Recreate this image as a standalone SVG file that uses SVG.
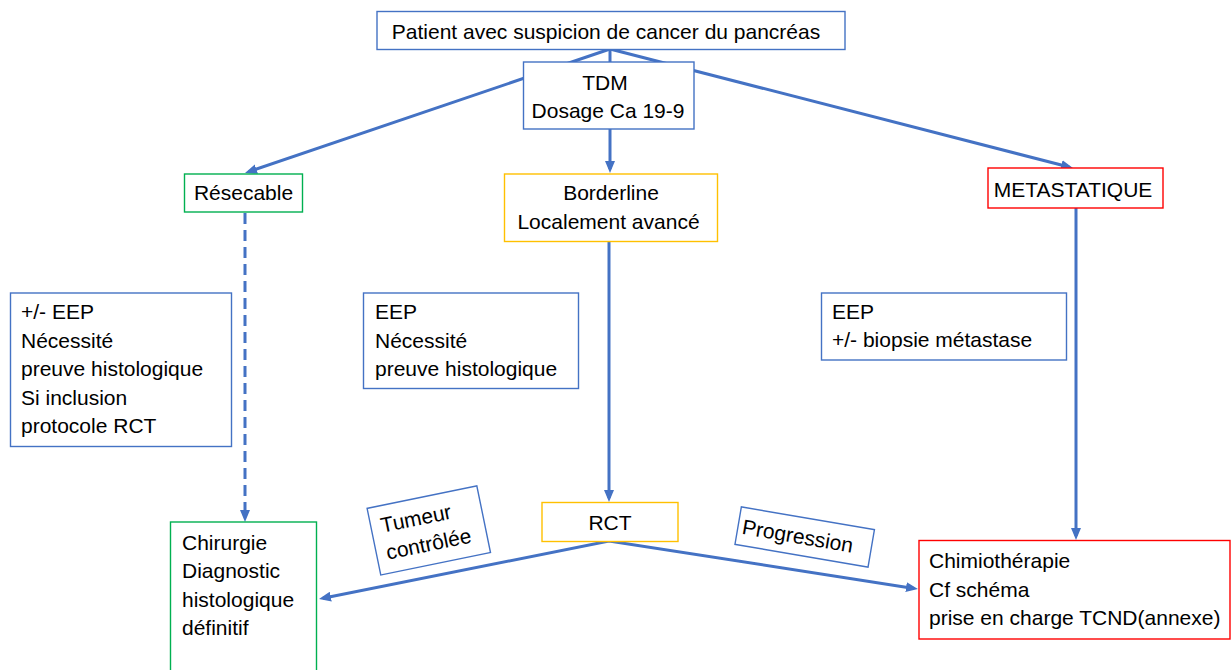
<svg xmlns="http://www.w3.org/2000/svg" width="1232" height="670" viewBox="0 0 1232 670">
<style>
text{font-family:"Liberation Sans",Arial,sans-serif;font-size:21px;fill:#000}
.c{text-anchor:middle}
.box{fill:#fff;stroke-width:1.4}
.b{stroke:#4472C4}
.g{stroke:#00B050}
.y{stroke:#FFC000}
.r{stroke:#FF0000}
.ln{fill:none;stroke:#4472C4;stroke-width:3}
.dash{stroke-dasharray:11 6}
</style>
<defs>
<marker id="ah" viewBox="0 0 12 10" refX="8" refY="5" markerWidth="12" markerHeight="10" markerUnits="userSpaceOnUse" orient="auto-start-reverse">
<path d="M0,0 L12,5 L0,10 z" fill="#4472C4"/>
</marker>
</defs>
<rect width="1232" height="670" fill="#fff"/>
<g id="connectors">
<line class="ln" x1="610" y1="49" x2="248.8" y2="171.7" marker-end="url(#ah)"/>
<line class="ln" x1="610" y1="49" x2="610" y2="169" marker-end="url(#ah)"/>
<line class="ln" x1="610" y1="49" x2="1069.1" y2="167" marker-end="url(#ah)"/>
<line class="ln" x1="609" y1="242" x2="609" y2="498" marker-end="url(#ah)"/>
<line class="ln" x1="1076" y1="208" x2="1076" y2="536" marker-end="url(#ah)"/>
<line class="ln dash" x1="245" y1="213" x2="245" y2="518" marker-end="url(#ah)"/>
<polyline class="ln" points="322.9,598.2 609,541 914,588.4" marker-start="url(#ah)" marker-end="url(#ah)"/>
</g>
<g id="patient">
<rect class="box b" x="377" y="11.5" width="468" height="38"/>
<text class="c" x="606" y="38.5">Patient avec suspicion de cancer du pancréas</text>
</g>
<g id="tdm">
<rect class="box b" x="523.5" y="62" width="170.5" height="67"/>
<text class="c" x="605" y="90">TDM</text>
<text class="c" x="608" y="118">Dosage Ca 19-9</text>
</g>
<g id="resecable">
<rect class="box g" x="184.5" y="174" width="118" height="38"/>
<text class="c" x="243.5" y="200">Résecable</text>
</g>
<g id="borderline">
<rect class="box y" x="504.5" y="174" width="213" height="67.5"/>
<text class="c" x="611" y="200">Borderline</text>
<text class="c" x="608.5" y="228.5">Localement avancé</text>
</g>
<g id="metastatique">
<rect class="box r" x="988" y="168" width="175" height="40"/>
<text class="c" x="1073" y="196.5">METASTATIQUE</text>
</g>
<g id="info-resecable">
<rect class="box b" x="10.5" y="293" width="221" height="153.5"/>
<text x="21" y="319">+/- EEP</text>
<text x="21" y="347.5">Nécessité</text>
<text x="21" y="376">preuve histologique</text>
<text x="21" y="404.5">Si inclusion</text>
<text x="21" y="433">protocole RCT</text>
</g>
<g id="info-borderline">
<rect class="box b" x="363.5" y="293" width="215" height="95.5"/>
<text x="375" y="319">EEP</text>
<text x="375" y="347.5">Nécessité</text>
<text x="375" y="376">preuve histologique</text>
</g>
<g id="info-meta">
<rect class="box b" x="821.5" y="293" width="245" height="67"/>
<text x="832" y="319">EEP</text>
<text x="832" y="347">+/- biopsie métastase</text>
</g>
<g id="rct">
<rect class="box y" x="542" y="502.5" width="136" height="39"/>
<text class="c" x="610" y="530">RCT</text>
</g>
<g id="chirurgie">
<rect class="box g" x="170.5" y="522" width="146" height="170"/>
<text x="182" y="550">Chirurgie</text>
<text x="182" y="578">Diagnostic</text>
<text x="182" y="607">histologique</text>
<text x="182" y="635">définitif</text>
</g>
<g id="chimio">
<rect class="box r" x="919" y="540.5" width="311" height="98.5"/>
<text x="929" y="568">Chimiothérapie</text>
<text x="929" y="596.5">Cf schéma</text>
<text x="929" y="625">prise en charge TCND(annexe)</text>
</g>
<g id="label-tumeur" transform="translate(428.8,530.4) rotate(-11.6)">
<rect class="box b" x="-56" y="-34" width="112" height="68" stroke-width="1.2"/>
<text x="-46" y="-7">Tumeur</text>
<text x="-46" y="20.5">contrôlée</text>
</g>
<g id="label-progression" transform="translate(804.7,537) rotate(9.7)">
<rect class="box b" x="-67.5" y="-19" width="135" height="38" stroke-width="1.2"/>
<text class="c" x="-7" y="7.5">Progression</text>
</g>
</svg>
